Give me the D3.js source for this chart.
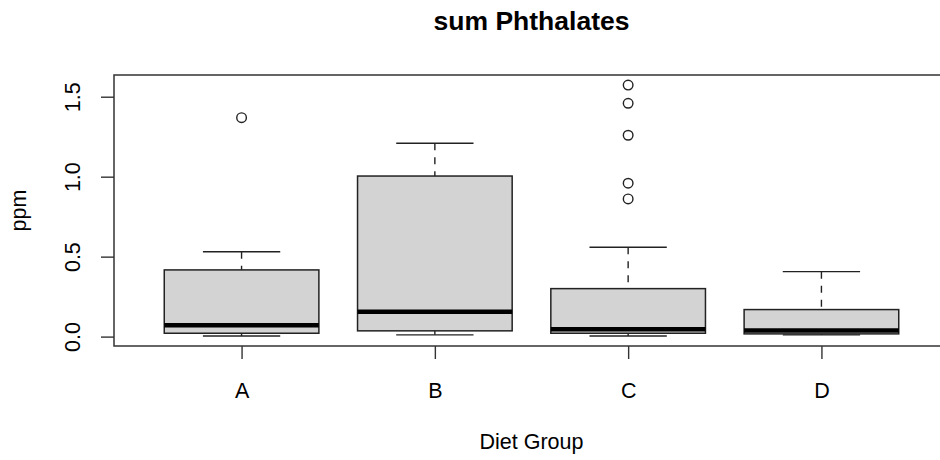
<!DOCTYPE html>
<html>
<head>
<meta charset="utf-8">
<script src="https://cdn.jsdelivr.net/npm/d3@7"></script>
<style>
  html, body { margin: 0; padding: 0; background: #ffffff; }
  svg { display: block; }
  text { font-family: "Liberation Sans", Arial, Helvetica, sans-serif; fill: #000; }
</style>
</head>
<body>
<svg id="chart" width="940" height="460"></svg>
<script>
// Box-plot summary for each diet group (ppm)
const groups      = ["A", "B", "C", "D"];
const whiskerLow  = [0.004, 0.011, 0.004, 0.011];
const q1          = [0.021, 0.036, 0.021, 0.017];
const medians     = [0.071, 0.156, 0.046, 0.038];
const q3          = [0.417, 1.004, 0.300, 0.169];
const whiskerHigh = [0.531, 1.209, 0.559, 0.406];
const outliers    = [[1.369], [], [1.573, 1.459, 1.259, 0.959, 0.861], []];

const yTicks      = [0, 0.5, 1.0, 1.5];
const yTickLabels = ["0.0", "0.5", "1.0", "1.5"];

const titleText = "sum Phthalates";
const xTitle    = "Diet Group";
const yTitle    = "ppm";

const svg = d3.select("#chart");
const plot = { left: 114, right: 949, top: 75, bottom: 346 };

// x positions 1..n, range padded like base graphics (4% each side)
const n = groups.length;
const xlo = 0.5, xhi = n + 0.5, xpad = (xhi - xlo) * 0.04;
const x = d3.scaleLinear().domain([xlo - xpad, xhi + xpad]).range([plot.left, plot.right]);

const allVals = [].concat(whiskerLow, whiskerHigh, ...outliers);
const [ymin, ymax] = d3.extent(allVals);
const ypad = (ymax - ymin) * 0.04;
const y = d3.scaleLinear().domain([ymin - ypad, ymax + ypad]).range([plot.bottom, plot.top]);

const boxHalf = 0.4, capHalf = 0.2;
const ink = "#222";
const fontSize = "21.5px";

const g = svg.append("g");

groups.forEach((name, i) => {
  const cx = x(i + 1);
  const bx0 = x(i + 1 - boxHalf), bx1 = x(i + 1 + boxHalf);
  const cx0 = x(i + 1 - capHalf), cx1 = x(i + 1 + capHalf);

  // whiskers (dashed), from whisker end to box edge
  g.append("line").attr("x1", cx).attr("x2", cx)
    .attr("y1", y(whiskerHigh[i])).attr("y2", y(q3[i]))
    .attr("stroke", ink).attr("stroke-width", 1.4).attr("stroke-dasharray", "7,7");
  g.append("line").attr("x1", cx).attr("x2", cx)
    .attr("y1", y(whiskerLow[i])).attr("y2", y(q1[i]))
    .attr("stroke", ink).attr("stroke-width", 1.4).attr("stroke-dasharray", "7,7");

  // staples
  g.append("line").attr("x1", cx0).attr("x2", cx1)
    .attr("y1", y(whiskerHigh[i])).attr("y2", y(whiskerHigh[i]))
    .attr("stroke", ink).attr("stroke-width", 1.4);
  g.append("line").attr("x1", cx0).attr("x2", cx1)
    .attr("y1", y(whiskerLow[i])).attr("y2", y(whiskerLow[i]))
    .attr("stroke", ink).attr("stroke-width", 1.4);

  // box
  g.append("rect")
    .attr("x", bx0).attr("y", y(q3[i]))
    .attr("width", bx1 - bx0).attr("height", y(q1[i]) - y(q3[i]))
    .attr("fill", "#d3d3d3").attr("stroke", ink).attr("stroke-width", 1.5);

  // median
  g.append("line").attr("x1", bx0).attr("x2", bx1)
    .attr("y1", y(medians[i])).attr("y2", y(medians[i]))
    .attr("stroke", "#000").attr("stroke-width", 4.5);

  // outlying points
  g.selectAll(null).data(outliers[i]).enter().append("circle")
    .attr("cx", cx).attr("cy", d => y(d)).attr("r", 4.8)
    .attr("fill", "none").attr("stroke", ink).attr("stroke-width", 1.4);
});

// plot frame
svg.append("rect")
  .attr("x", plot.left).attr("y", plot.top)
  .attr("width", plot.right - plot.left).attr("height", plot.bottom - plot.top)
  .attr("fill", "none").attr("stroke", "#333").attr("stroke-width", 1.5);

// y axis
const yAxis = d3.axisLeft(y).tickValues(yTicks)
  .tickFormat((d, i) => yTickLabels[i]).tickSize(13).tickPadding(0);
const ya = svg.append("g").attr("transform", `translate(${plot.left},0)`).call(yAxis);
ya.select(".domain").remove();
ya.selectAll(".tick line").attr("stroke", "#333").attr("stroke-width", 1.4);
ya.selectAll(".tick text")
  .attr("x", 0).attr("dy", null)
  .attr("transform", `translate(${80 - plot.left},0) rotate(-90)`)
  .attr("text-anchor", "middle").style("font-size", fontSize)
  .style("font-family", "'Liberation Sans', Arial, sans-serif").attr("fill", "#000");

// x axis
const xAxis = d3.axisBottom(x).tickValues(groups.map((_, i) => i + 1))
  .tickFormat((d, i) => groups[i]).tickSize(13).tickPadding(0);
const xa = svg.append("g").attr("transform", `translate(0,${plot.bottom})`).call(xAxis);
xa.select(".domain").remove();
xa.selectAll(".tick line").attr("stroke", "#333").attr("stroke-width", 1.4);
xa.selectAll(".tick text")
  .attr("y", 52).attr("dy", null)
  .style("font-size", fontSize)
  .style("font-family", "'Liberation Sans', Arial, sans-serif").attr("fill", "#000");

const midX = (plot.left + plot.right) / 2;

// titles
svg.append("text").attr("x", midX).attr("y", 30)
  .attr("text-anchor", "middle").style("font-size", "26.5px").style("font-weight", "bold")
  .text(titleText);

svg.append("text").attr("x", midX).attr("y", 449)
  .attr("text-anchor", "middle").style("font-size", fontSize)
  .text(xTitle);

svg.append("text")
  .attr("transform", `translate(26,${(plot.top + plot.bottom) / 2}) rotate(-90)`)
  .attr("text-anchor", "middle").style("font-size", fontSize)
  .text(yTitle);
</script>
</body>
</html>
